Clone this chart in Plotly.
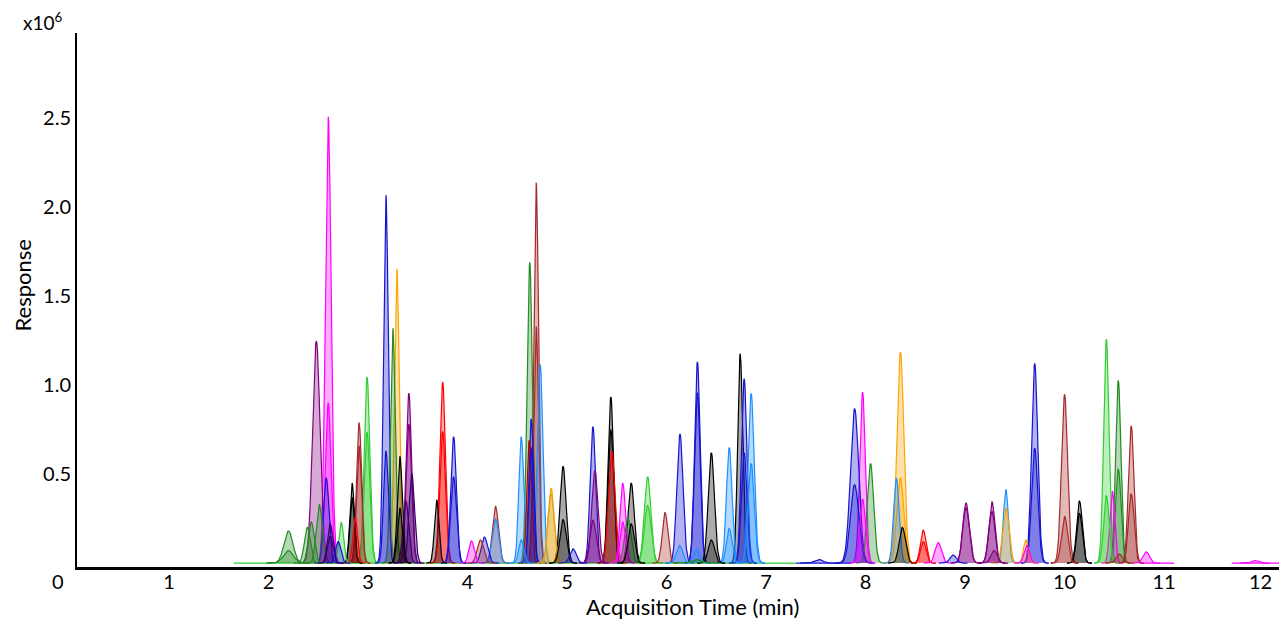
import numpy as np
import plotly.graph_objects as go

# Peak table (retention time in min, apex response in 1e6 counts,
# approximate Gaussian sigma in min, trace colour)
peak_rt = [
    2.20, 2.20, 2.39, 2.43, 2.51, 3.25, 4.625, 5.61, 8.05, 10.54, 10.54, 6.30,
    2.73, 2.99, 2.99, 5.81, 5.81, 10.42, 10.42,
    2.60, 2.60, 4.04, 5.56, 5.56, 7.97, 7.97, 8.73, 9.62, 10.48, 10.82, 11.91,
    2.48, 3.41, 3.41, 5.28, 5.26, 9.01, 9.01, 9.27, 9.27, 9.29,
    2.62, 2.62, 3.44, 3.38,
    2.58, 2.70, 3.18, 3.18, 3.86, 3.86, 4.17, 4.64, 4.64, 5.06, 5.26, 6.135, 6.31, 6.31,
    6.78, 6.78, 7.53, 7.89, 7.89, 8.88, 9.70, 9.70,
    4.28, 4.54, 4.54, 4.73, 6.13, 6.30, 6.63, 6.63, 6.85, 6.85, 8.31, 9.41,
    2.91, 2.91, 4.13, 4.28, 4.69, 4.69, 5.985, 10.00, 10.00, 10.67, 10.67, 10.55,
    2.87, 3.75, 3.75, 4.62, 5.45, 8.58, 8.58,
    3.29, 4.84, 8.35, 8.35, 9.41, 9.61, 4.84,
    2.84, 2.84, 3.32, 3.32, 3.69, 4.96, 4.96, 5.44, 5.44, 5.645, 5.645, 6.45, 6.45,
    6.74, 8.37, 10.15, 10.15,
]
peak_height = [
    0.18, 0.07, 0.20, 0.23, 0.33, 1.319, 1.689, 0.255, 0.56, 1.026, 0.53, 0.02,
    0.23, 1.046, 0.735, 0.485, 0.325, 1.258, 0.38,
    2.507, 0.90, 0.124, 0.45, 0.23, 0.96, 0.36, 0.115, 0.10, 0.405, 0.063, 0.015,
    1.248, 0.955, 0.78, 0.52, 0.24, 0.337, 0.31, 0.346, 0.29, 0.07,
    0.22, 0.15, 0.50, 0.35,
    0.48, 0.12, 2.067, 0.63, 0.71, 0.485, 0.146, 0.81, 0.65, 0.08, 0.767, 0.726, 1.131, 0.958,
    1.036, 0.62, 0.02, 0.868, 0.44, 0.045, 1.122, 0.646,
    0.25, 0.71, 0.13, 1.117, 0.10, 0.08, 0.65, 0.195, 0.954, 0.56, 0.476, 0.415,
    0.79, 0.66, 0.13, 0.32, 2.138, 1.329, 0.285, 0.948, 0.263, 0.77, 0.39, 0.05,
    0.26, 1.016, 0.74, 0.69, 0.63, 0.185, 0.12,
    1.653, 0.42, 1.187, 0.48, 0.31, 0.13, 0.39,
    0.45, 0.37, 0.60, 0.31, 0.355, 0.544, 0.245, 0.934, 0.75, 0.45, 0.22, 0.62, 0.13,
    1.177, 0.20, 0.35, 0.28,
]
peak_sigma = [
    0.045, 0.05, 0.03, 0.03, 0.03, 0.024, 0.027, 0.032, 0.032, 0.027, 0.027, 0.05,
    0.024, 0.028, 0.028, 0.033, 0.033, 0.027, 0.027,
    0.029, 0.029, 0.027, 0.027, 0.027, 0.028, 0.028, 0.032, 0.027, 0.025, 0.032, 0.032,
    0.038, 0.028, 0.028, 0.032, 0.032, 0.033, 0.033, 0.031, 0.031, 0.032,
    0.027, 0.027, 0.028, 0.028,
    0.027, 0.027, 0.024, 0.024, 0.028, 0.028, 0.032, 0.023, 0.023, 0.032, 0.028, 0.031, 0.028, 0.028,
    0.028, 0.028, 0.042, 0.042, 0.042, 0.032, 0.031, 0.031,
    0.032, 0.025, 0.025, 0.028, 0.032, 0.032, 0.028, 0.028, 0.031, 0.031, 0.028, 0.025,
    0.025, 0.025, 0.032, 0.031, 0.024, 0.024, 0.028, 0.031, 0.031, 0.028, 0.028, 0.032,
    0.023, 0.028, 0.028, 0.023, 0.033, 0.028, 0.028,
    0.024, 0.031, 0.035, 0.035, 0.032, 0.023, 0.031,
    0.023, 0.023, 0.025, 0.025, 0.023, 0.031, 0.031, 0.028, 0.028, 0.031, 0.031, 0.031, 0.031,
    0.025, 0.032, 0.028, 0.028,
]
peak_color = (
    ["#228B22"] * 12
    + ["#32CD32"] * 7
    + ["#FF00FF"] * 12
    + ["#800080"] * 10
    + ["#3A006F"] * 4
    + ["#1515D0"] * 22
    + ["#1E90FF"] * 12
    + ["#A52A2A"] * 12
    + ["#FF0000"] * 3 + ["#B00000"] + ["#FF0000"] * 3
    + ["#FFA500"] * 6 + ["#DAA520"]
    + ["#000000"] * 17
)

# Flat baseline stretches of the traces (start, end in min)
base_start = [1.65, 7.30, 10.75, 11.68]
base_end = [7.30, 7.85, 11.10, 12.20]
base_color = ["#32CD32", "#1515D0", "#FF00FF", "#FF00FF"]

x_ticks = list(range(1, 12))
y_ticks = [0.5, 1.0, 1.5, 2.0, 2.5]
y_tick_text = ["0.5", "1.0", "1.5", "2.0", "2.5"]


def rgba(hex_color, a):
    h = hex_color.lstrip("#")
    r, g, b = int(h[0:2], 16), int(h[2:4], 16), int(h[4:6], 16)
    return f"rgba({r},{g},{b},{a})"


fig = go.Figure()

for s, e, c in zip(base_start, base_end, base_color):
    fig.add_trace(go.Scatter(x=[s, e], y=[0, 0], mode="lines",
                             line=dict(color=c, width=1.2), hoverinfo="skip"))

order = np.argsort(peak_height)[::-1]
for i in order:
    rt, h, sg, c = peak_rt[i], peak_height[i], peak_sigma[i], peak_color[i]
    x = np.linspace(rt - 4.5 * sg, rt + 4.5 * sg, 61)
    y = h * np.exp(-0.5 * ((x - rt) / sg) ** 2)
    fig.add_trace(go.Scatter(x=x, y=y, mode="lines", fill="tozeroy",
                             fillcolor=rgba(c, 0.33),
                             line=dict(color=c, width=1.2), hoverinfo="skip"))

font_family = "Lato, 'Open Sans', sans-serif"

PW, PH = 1202, 534  # plot area in pixels


def px_x(px):
    return (px - 77) / PW


def px_y(py):
    return (567 - py) / PH


fig.update_layout(
    width=1279, height=619,
    margin=dict(l=77, r=0, t=33, b=52),
    paper_bgcolor="white", plot_bgcolor="white",
    showlegend=False,
    font=dict(family=font_family, color="black", size=20),
    xaxis=dict(range=[0.075, 12.155], tickvals=x_ticks, automargin=False,
               showline=True, linecolor="black", linewidth=2.5,
               showgrid=False, zeroline=False, ticks="",
               ticklabelstandoff=-5,
               tickfont=dict(size=20)),
    yaxis=dict(range=[-0.022, 2.978], tickvals=y_ticks, ticktext=y_tick_text,
               automargin=False,
               showline=True, linecolor="black", linewidth=2,
               showgrid=False, zeroline=False, ticks="",
               ticklabelstandoff=0,
               tickfont=dict(size=20)),
    annotations=[
        dict(text="x10<sup>6</sup>", xref="paper", yref="paper",
             x=px_x(21), y=px_y(36), xanchor="left", yanchor="bottom",
             showarrow=False, font=dict(size=19)),
        dict(text="0", xref="paper", yref="paper",
             x=px_x(57.5), y=px_y(581), xanchor="center", yanchor="middle",
             showarrow=False, font=dict(size=20)),
        dict(text="12", xref="paper", yref="paper",
             x=px_x(1260), y=px_y(581), xanchor="center", yanchor="middle",
             showarrow=False, font=dict(size=20)),
        dict(text="Acquisition Time (min)", xref="paper", yref="paper",
             x=px_x(692), y=px_y(606), xanchor="center", yanchor="middle",
             showarrow=False, font=dict(size=22)),
        dict(text="Response", xref="paper", yref="paper", textangle=-90,
             x=px_x(21.5), y=px_y(286), xanchor="center", yanchor="middle",
             showarrow=False, font=dict(size=22)),
    ],
)

fig.write_html(
    "out.html",
    config={"displayModeBar": False},
    post_script="document.body.style.margin='0';document.body.style.overflow='hidden';",
)
